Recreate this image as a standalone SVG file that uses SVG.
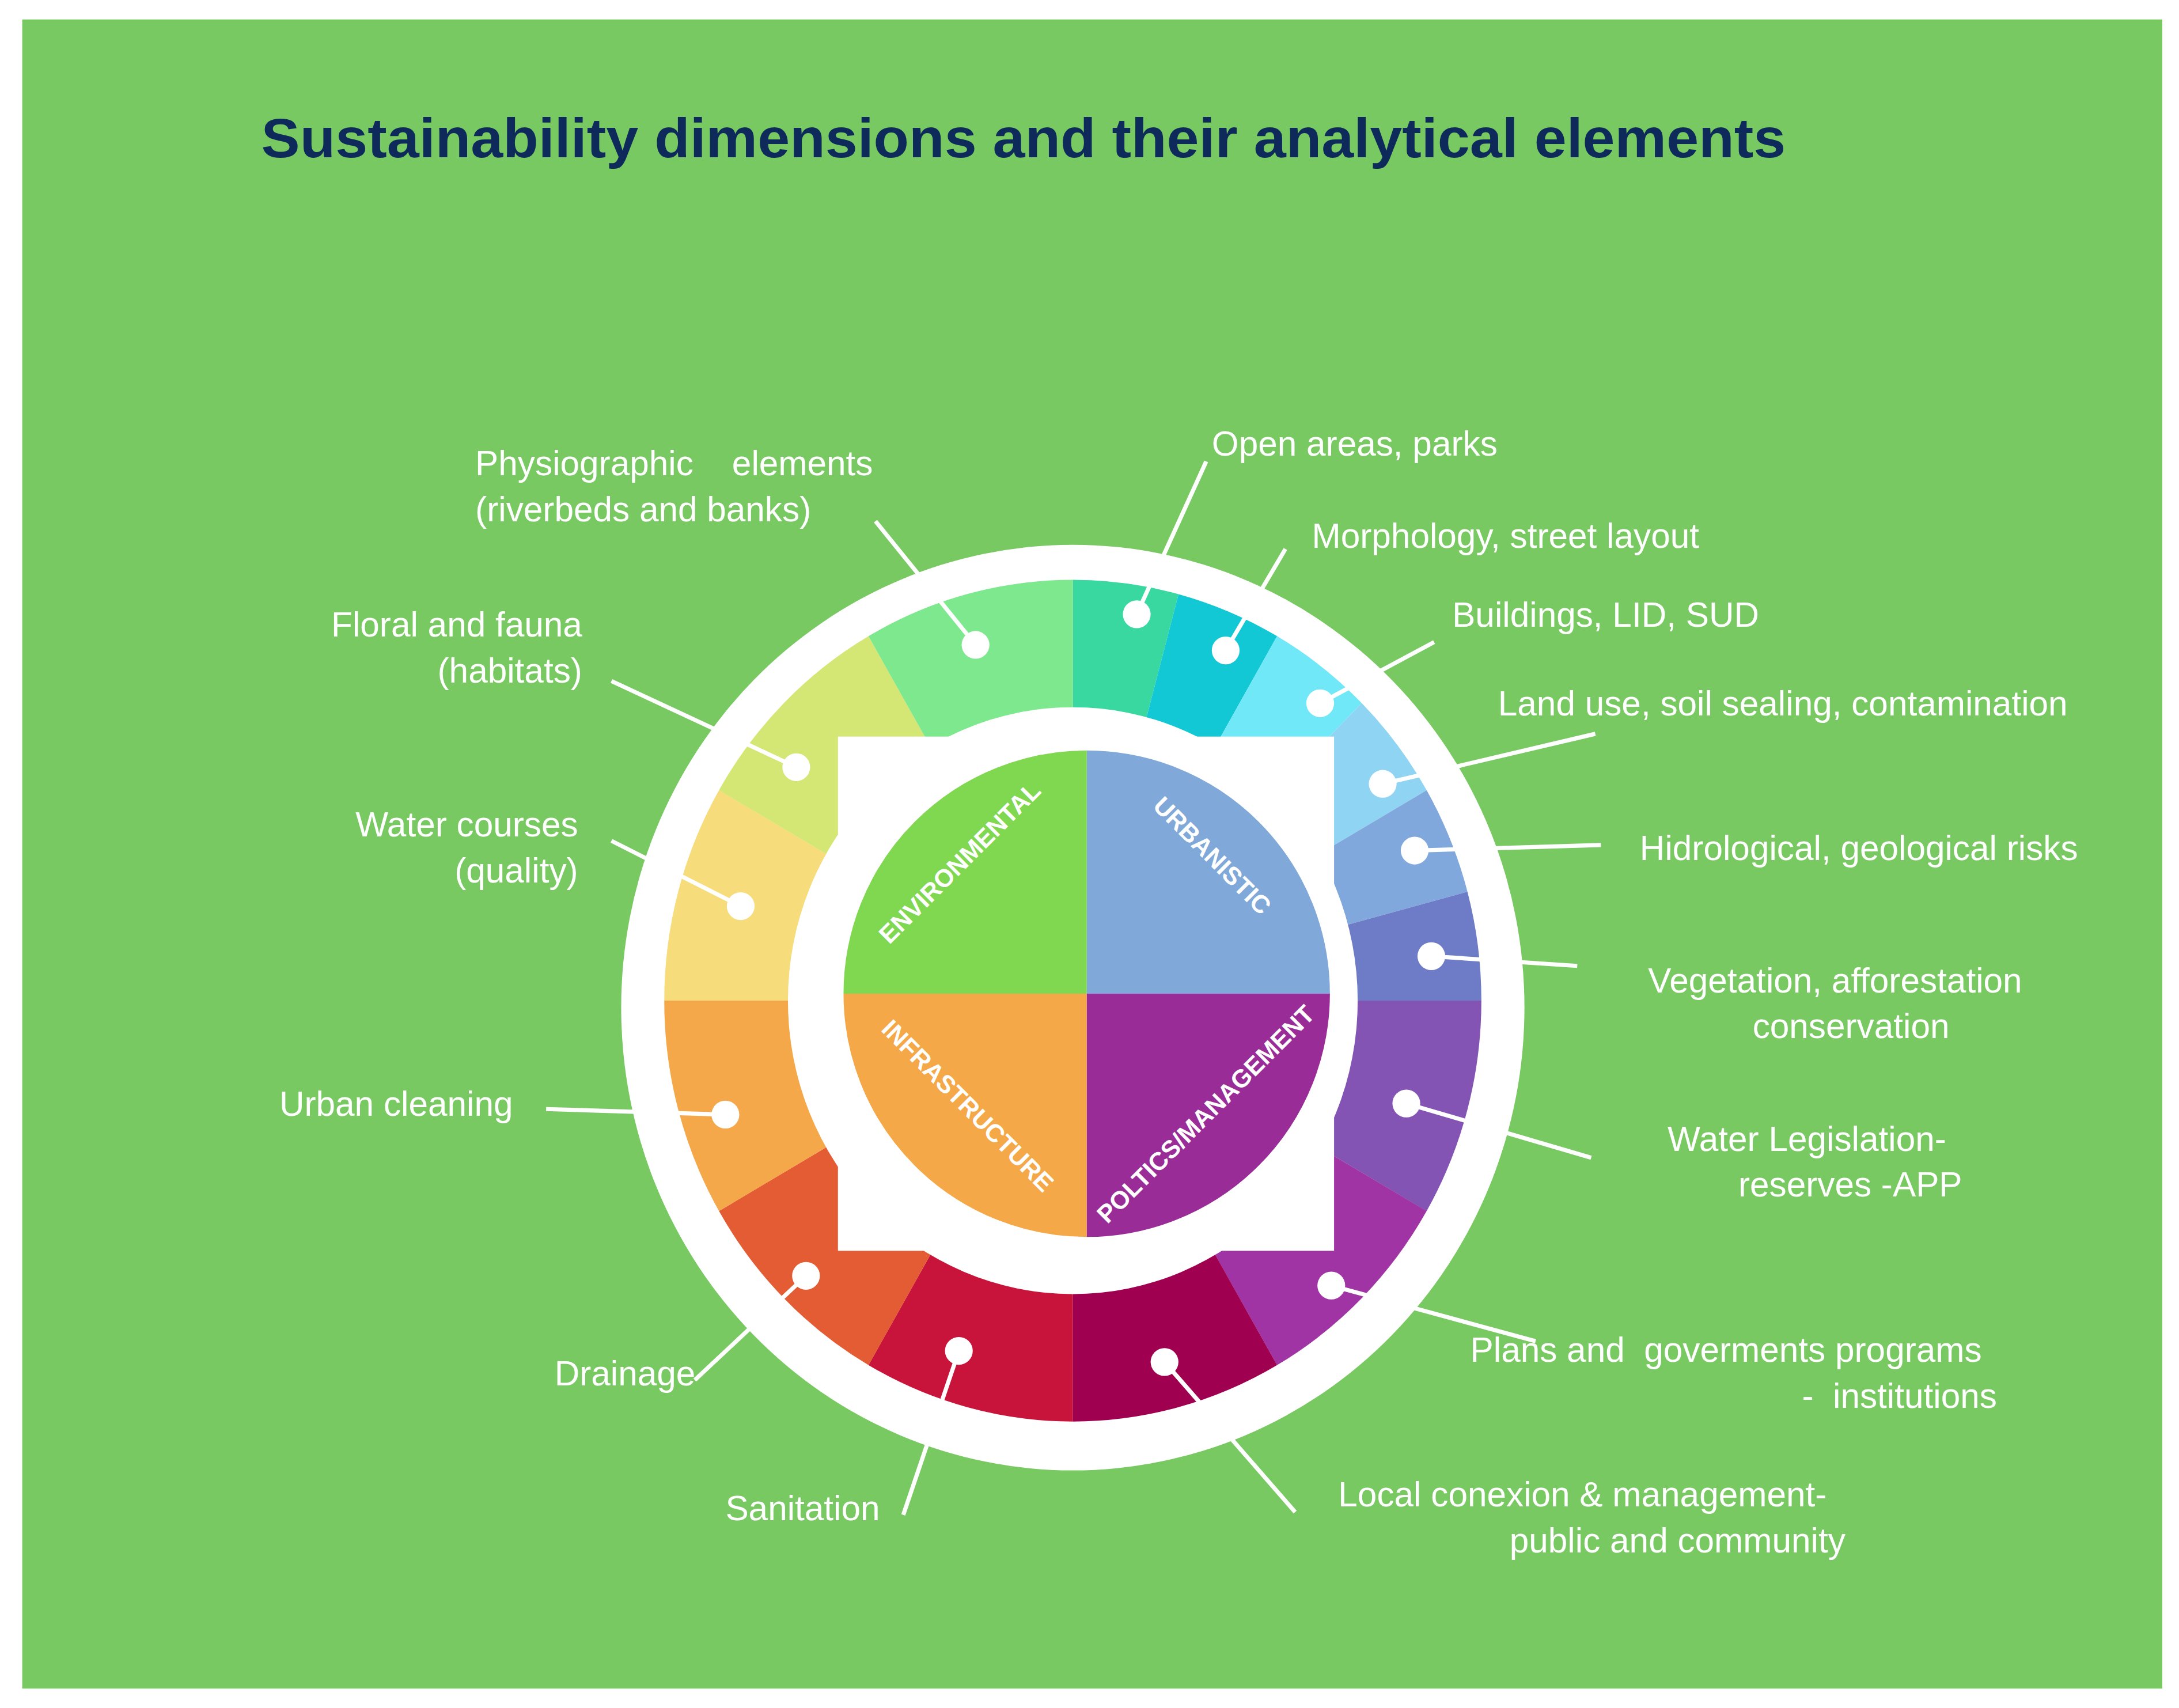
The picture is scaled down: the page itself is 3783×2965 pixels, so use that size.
<svg xmlns="http://www.w3.org/2000/svg" width="3783" height="2965" viewBox="0 0 3783 2965">
<style>
.lb{font-family:"Liberation Sans",Arial,sans-serif;font-size:25px;fill:#fff}
.r{text-anchor:end}
.c{text-anchor:middle}
.q{font-family:"Liberation Sans",Arial,sans-serif;font-size:18px;font-weight:bold;fill:#fff;text-anchor:middle}
.ln{stroke:#fff;stroke-width:3;fill:none}
.seg{fill:none;stroke-width:90}
.dot{fill:#fff}
</style>
<rect width="3783" height="2965" fill="#fff"/>
<g transform="scale(2.4126)">
<rect x="16" y="14" width="1540" height="1201" fill="#79c962"/>
<text x="188" y="113" font-family="Liberation Sans,Arial,sans-serif" font-size="40" font-weight="bold" fill="#0d2a5a" textLength="1097" lengthAdjust="spacingAndGlyphs">Sustainability dimensions and their analytical elements</text>
<g id="ring">
<ellipse cx="772" cy="725" rx="325" ry="333" fill="#fff"/>
<g transform="translate(772,720) scale(1,1.03) translate(-772,-720)">
<circle class="seg" cx="772" cy="720" r="249" stroke="#38d8a0" stroke-dasharray="65.2 1600" transform="rotate(-90 772 720)"/>
<circle class="seg" cx="772" cy="720" r="249" stroke="#12c8d4" stroke-dasharray="65.2 1600" transform="rotate(-75 772 720)"/>
<circle class="seg" cx="772" cy="720" r="249" stroke="#70e8f8" stroke-dasharray="65.2 1600" transform="rotate(-60 772 720)"/>
<circle class="seg" cx="772" cy="720" r="249" stroke="#90d4f4" stroke-dasharray="65.2 1600" transform="rotate(-45 772 720)"/>
<circle class="seg" cx="772" cy="720" r="249" stroke="#80a8dc" stroke-dasharray="65.2 1600" transform="rotate(-30 772 720)"/>
<circle class="seg" cx="772" cy="720" r="249" stroke="#6e7cc8" stroke-dasharray="65.2 1600" transform="rotate(-15 772 720)"/>
<circle class="seg" cx="772" cy="720" r="249" stroke="#8454b4" stroke-dasharray="130.4 1600" transform="rotate(0 772 720)"/>
<circle class="seg" cx="772" cy="720" r="249" stroke="#a034a4" stroke-dasharray="130.4 1600" transform="rotate(30 772 720)"/>
<circle class="seg" cx="772" cy="720" r="249" stroke="#a00050" stroke-dasharray="130.4 1600" transform="rotate(60 772 720)"/>
<circle class="seg" cx="772" cy="720" r="249" stroke="#c8143a" stroke-dasharray="130.4 1600" transform="rotate(90 772 720)"/>
<circle class="seg" cx="772" cy="720" r="249" stroke="#e45c34" stroke-dasharray="130.4 1600" transform="rotate(120 772 720)"/>
<circle class="seg" cx="772" cy="720" r="249" stroke="#f4a84a" stroke-dasharray="130.4 1600" transform="rotate(150 772 720)"/>
<circle class="seg" cx="772" cy="720" r="249" stroke="#f6dc7a" stroke-dasharray="130.4 1600" transform="rotate(180 772 720)"/>
<circle class="seg" cx="772" cy="720" r="249" stroke="#d4e674" stroke-dasharray="130.4 1600" transform="rotate(210 772 720)"/>
<circle class="seg" cx="772" cy="720" r="249" stroke="#7ee88e" stroke-dasharray="130.4 1600" transform="rotate(240 772 720)"/>
<circle cx="772" cy="720" r="205" fill="#fff"/>
</g>
<rect x="603" y="530" width="357" height="370" fill="#fff"/>
</g>
<g id="connectors">
<path class="ln" d="M818,442L868,332M882,468L925,395M950,506L1032,462M995,564L1148,528M1018,612L1152,608M1030,688L1135,695M1012,794L1145,833M958,925L1105,965M838,980L932,1088M690,972L650,1090M580,918L500,993M522,802L393,798M533,652L440,605M573,552L440,490M702,464L630,375"/>
</g>
<g id="dots">
<circle class="dot" cx="818" cy="442" r="10"/><circle class="dot" cx="882" cy="468" r="10"/><circle class="dot" cx="950" cy="506" r="10"/><circle class="dot" cx="995" cy="564" r="10"/><circle class="dot" cx="1018" cy="612" r="10"/><circle class="dot" cx="1030" cy="688" r="10"/><circle class="dot" cx="1012" cy="794" r="10"/><circle class="dot" cx="958" cy="925" r="10"/><circle class="dot" cx="838" cy="980" r="10"/><circle class="dot" cx="690" cy="972" r="10"/><circle class="dot" cx="580" cy="918" r="10"/><circle class="dot" cx="522" cy="802" r="10"/><circle class="dot" cx="533" cy="652" r="10"/><circle class="dot" cx="573" cy="552" r="10"/><circle class="dot" cx="702" cy="464" r="10"/>
</g>
<g id="pie">
<circle cx="782" cy="715" r="87.5" fill="none" stroke-width="175" stroke="#80a8d8" stroke-dasharray="137.44 600" transform="rotate(-90 782 715)"/>
<circle cx="782" cy="715" r="87.5" fill="none" stroke-width="175" stroke="#9a2c98" stroke-dasharray="137.44 600" transform="rotate(0 782 715)"/>
<circle cx="782" cy="715" r="87.5" fill="none" stroke-width="175" stroke="#f5a848" stroke-dasharray="137.44 600" transform="rotate(90 782 715)"/>
<circle cx="782" cy="715" r="87.5" fill="none" stroke-width="175" stroke="#80d850" stroke-dasharray="137.44 600" transform="rotate(180 782 715)"/>
<text class="q" transform="translate(695,625) rotate(-45)">ENVIRONMENTAL</text>
<text class="q" transform="translate(868,620) rotate(45)">URBANISTIC</text>
<text class="q" transform="translate(692,800) rotate(45)">INFRASTRUCTURE</text>
<text class="q" transform="translate(872,806) rotate(-45)">POLTICS/MANAGEMENT</text>
</g>
<g id="labels">
<text class="lb" x="872" y="328">Open areas, parks</text>
<text class="lb" x="944" y="394">Morphology, street layout</text>
<text class="lb" x="1045" y="451">Buildings, LID, SUD</text>
<text class="lb" x="1078" y="515">Land use, soil sealing, contamination</text>
<text class="lb" x="1180" y="619">Hidrological, geological risks</text>
<text class="lb" x="1186" y="714">Vegetation, afforestation</text>
<text class="lb c" x="1332" y="747">conservation</text>
<text class="lb" x="1200" y="828">Water Legislation-</text>
<text class="lb r" x="1412" y="861">reserves -APP</text>
<text class="lb" x="1058" y="980" xml:space="preserve">Plans and  goverments programs</text>
<text class="lb r" x="1437" y="1013" xml:space="preserve">-  institutions</text>
<text class="lb" x="963" y="1084">Local conexion &amp; management-</text>
<text class="lb r" x="1328" y="1117">public and community</text>
<text class="lb" x="522" y="1094">Sanitation</text>
<text class="lb" x="399" y="997">Drainage</text>
<text class="lb" x="201" y="803">Urban cleaning</text>
<text class="lb r" x="416" y="602">Water courses</text>
<text class="lb r" x="416" y="635">(quality)</text>
<text class="lb r" x="419" y="458">Floral and fauna</text>
<text class="lb r" x="419" y="491">(habitats)</text>
<text class="lb" x="342" y="342" xml:space="preserve">Physiographic    elements</text>
<text class="lb" x="342" y="375">(riverbeds and banks)</text>
</g>
</g>
</svg>
